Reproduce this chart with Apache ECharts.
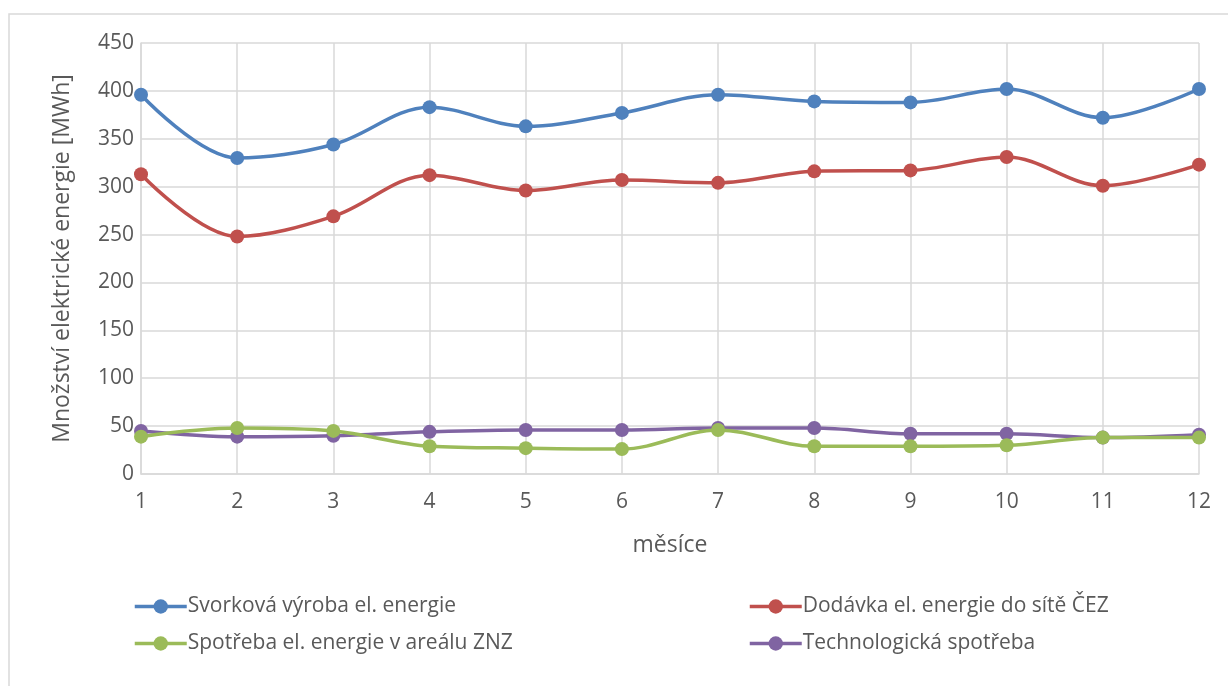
<!DOCTYPE html>
<html>
<head>
<meta charset="utf-8">
<script src="https://cdn.jsdelivr.net/npm/echarts@6/dist/echarts.min.js"></script>
<style>
  html, body { margin: 0; padding: 0; background: #fff; }
  #chart { width: 1228px; height: 686px; }
</style>
</head>
<body>
<div id="chart"></div>
<script>
// Měsíce (osa x)
const months = ['1', '2', '3', '4', '5', '6', '7', '8', '9', '10', '11', '12'];

// Množství elektrické energie [MWh]
const svorkovaVyroba = [396, 330, 344, 383, 363, 377, 396, 389, 388, 402, 372, 402];
const dodavkaCez = [313, 248, 269, 312, 296, 307, 304, 316, 317, 331, 301, 323];
const spotrebaAreal = [39, 48, 45, 29, 27, 26, 46, 29, 29, 30, 38, 38];
const technologicka = [45, 39, 40, 44, 46, 46, 48, 48, 42, 42, 38, 41];

const seriesNames = [
  'Svorková výroba el. energie',
  'Dodávka el. energie do sítě ČEZ',
  'Spotřeba el. energie v areálu ZNZ',
  'Technologická spotřeba'
];
const colors = ['#4f81bd', '#c0504d', '#9bbb59', '#8064a2'];
const values = [svorkovaVyroba, dodavkaCez, spotrebaAreal, technologicka];

const textColor = '#595959';
const font = '"Open Sans", sans-serif';

const chart = echarts.init(document.getElementById('chart'));

const legendCommon = {
  orient: 'vertical',
  top: 591,
  itemWidth: 52,
  itemHeight: 18,
  itemGap: 16,
  lineStyle: { width: 3.5 },
  textStyle: { color: textColor, fontSize: 21, fontFamily: font, padding: [0, 0, 0, -4] }
};

chart.setOption({
  animation: false,
  color: colors,
  graphic: [{
    type: 'rect',
    shape: { x: 9, y: 14, width: 1240, height: 700 },
    style: { fill: 'none', stroke: '#d9d9d9', lineWidth: 1.5 },
    silent: true
  }],
  grid: { left: 141, right: 29, top: 43, bottom: 212 },
  legend: [
    Object.assign({ left: 128, data: [seriesNames[0], seriesNames[2]] }, legendCommon),
    Object.assign({ left: 743, data: [seriesNames[1], seriesNames[3]] }, legendCommon)
  ],
  xAxis: {
    type: 'category',
    data: months,
    boundaryGap: false,
    name: 'měsíce',
    nameLocation: 'middle',
    nameGap: 60,
    nameTextStyle: { color: textColor, fontSize: 23, fontFamily: font },
    axisLine: { lineStyle: { color: '#d9d9d9', width: 1.5 } },
    axisTick: { show: false },
    axisLabel: { color: textColor, fontSize: 21, fontFamily: font, margin: 18 },
    splitLine: { show: true, lineStyle: { color: '#d9d9d9', width: 1.5 } }
  },
  yAxis: {
    type: 'value',
    min: 0,
    max: 450,
    interval: 50,
    name: 'Množství elektrické energie [MWh]',
    nameLocation: 'middle',
    nameGap: 67,
    nameTextStyle: { color: textColor, fontSize: 23, fontFamily: font },
    axisLine: { show: true, lineStyle: { color: '#d9d9d9', width: 1.5 } },
    axisTick: { show: false },
    axisLabel: { color: textColor, fontSize: 21, fontFamily: font, margin: 7 },
    splitLine: { lineStyle: { color: '#d9d9d9', width: 1.5 } }
  },
  series: seriesNames.map((name, i) => ({
    name: name,
    type: 'line',
    data: values[i],
    smooth: 0.35,
    symbol: 'circle',
    symbolSize: 14,
    lineStyle: { width: 3.5, color: colors[i] },
    itemStyle: { color: colors[i] },
    z: 10 - i
  }))
});
</script>
</body>
</html>
